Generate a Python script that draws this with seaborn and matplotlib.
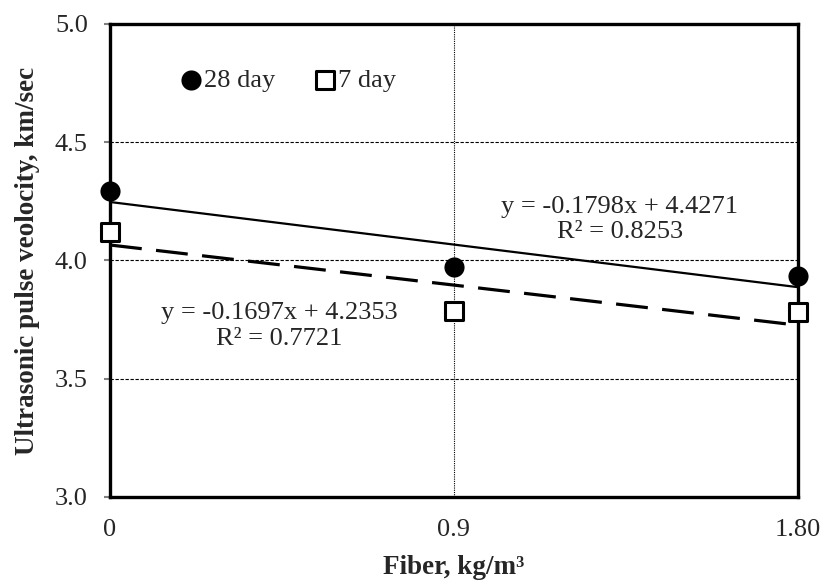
import matplotlib
matplotlib.use("Agg")
import matplotlib.pyplot as plt
import seaborn as sns
import pandas as pd

# data
fiber_labels = ["0", "0.9", "1.80"]
x_pos = [1, 2, 3]
day28 = [4.295, 3.972, 3.935]
day7 = [4.12, 3.787, 3.781]

eq28 = "y = -0.1798x + 4.4271\nR\u00b2 = 0.8253"
eq7 = "y = -0.1697x + 4.2353\nR\u00b2 = 0.7721"

df = pd.DataFrame({"x": x_pos, "d28": day28, "d7": day7})

sns.set_style("white")
plt.rcParams["font.family"] = ["Liberation Serif", "DejaVu Serif"]
plt.rcParams["font.size"] = 19

fig = plt.figure(figsize=(8.24, 5.81), dpi=100)
ax = fig.add_axes([0.1335, 0.1446, 0.8345, 0.8141])

# trend lines (linear fit)
sns.regplot(data=df, x="x", y="d28", scatter=False, ci=None, ax=ax,
            line_kws=dict(color="black", lw=1.6))
sns.regplot(data=df, x="x", y="d7", scatter=False, ci=None, ax=ax,
            line_kws=dict(color="black", lw=2.3, dashes=(10, 4.5)))

sns.scatterplot(data=df, x="x", y="d28", ax=ax, marker="o", s=210,
                color="black", edgecolor="black", linewidth=0, label="28 day",
                zorder=5)
sns.scatterplot(data=df, x="x", y="d7", ax=ax, marker="s", s=150,
                facecolor="white", edgecolor="black", linewidth=2.2,
                label="7 day", zorder=5)
for c in ax.collections:
    c.set_clip_on(False)

ax.set_xlim(1, 3)
ax.set_ylim(3.0, 5.0)
ax.set_xticks(x_pos)
ax.set_xticklabels(fiber_labels)
ax.set_yticks([3.0, 3.5, 4.0, 4.5, 5.0])
ax.set_yticklabels(["3.0", "3.5", "4.0", "4.5", "5.0"])

# grid
for yv in [3.5, 4.0, 4.5]:
    ax.axhline(yv, color="black", lw=0.8, ls=(0, (3, 1.5)), zorder=1)
ax.axvline(2, color="black", lw=0.8, ls=(0, (1, 1)), zorder=1)

for s in ax.spines.values():
    s.set_visible(True)
    s.set_color("black")
    s.set_linewidth(2.4)

ax.tick_params(axis="y", length=4, width=1.5, color="gray", pad=12,
               labelsize=19, left=True)
ax.tick_params(axis="x", length=0, pad=16, labelsize=19)

ax.set_xlabel("Fiber, kg/m\u00b3", fontsize=19.5, fontweight="bold", labelpad=10)
ax.set_ylabel("Ultrasonic pulse veolocity, km/sec", fontsize=19.5,
              fontweight="bold", labelpad=11)

ax.text(2.483, 4.174, eq28, ha="center", va="center", fontsize=19,
        linespacing=1.2)
ax.text(1.491, 3.722, eq7, ha="center", va="center", fontsize=19,
        linespacing=1.25)

ax.legend(loc="center left", bbox_to_anchor=(0.1, 0.882), ncol=2,
          frameon=False, handletextpad=0.05, columnspacing=1.45,
          handlelength=0.9, borderpad=0, borderaxespad=0, fontsize=19)

plt.savefig("out.png", dpi=100)
